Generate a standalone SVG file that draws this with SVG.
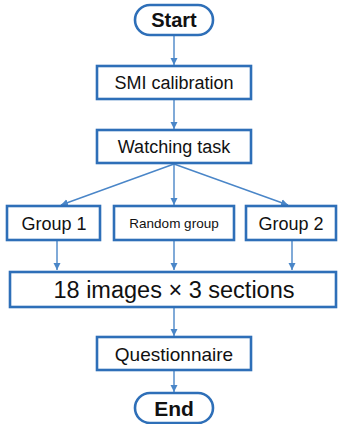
<svg xmlns="http://www.w3.org/2000/svg" width="338" height="424" viewBox="0 0 338 424">
<defs>
<marker id="ah" markerWidth="8" markerHeight="8" refX="7" refY="4" orient="auto" markerUnits="userSpaceOnUse">
<path d="M0,0.5 L7,4 L0,7.5 Z" fill="#4a86c8"/>
</marker>
</defs>
<style>
.box{fill:#fff;stroke:#2e6fb8;stroke-width:2.6}
.t{font-family:"Liberation Sans",Arial,sans-serif;fill:#111;text-anchor:middle}
.b{font-weight:bold}
.c{stroke:#4a86c8;stroke-width:1.4;fill:none;marker-end:url(#ah)}
</style>
<rect width="338" height="424" fill="#fff"/>
<g id="connectors">
<line class="c" x1="174" y1="36" x2="174" y2="65"/>
<line class="c" x1="174" y1="100" x2="174" y2="129"/>
<line class="c" x1="174" y1="164" x2="61" y2="205"/>
<line class="c" x1="174" y1="164" x2="174" y2="205"/>
<line class="c" x1="174" y1="164" x2="288" y2="205"/>
<line class="c" x1="57" y1="241" x2="57" y2="270"/>
<line class="c" x1="174" y1="241" x2="174" y2="270"/>
<line class="c" x1="292" y1="241" x2="292" y2="270"/>
<line class="c" x1="174" y1="308" x2="174" y2="336"/>
<line class="c" x1="174" y1="371" x2="174" y2="392"/>
</g>
<g id="start">
<rect class="box" x="135" y="5" width="78" height="30" rx="15"/>
<text class="t b" x="174" y="27" font-size="20">Start</text>
</g>
<g id="smi">
<rect class="box" x="97" y="66" width="154" height="33"/>
<text class="t" x="174" y="89" font-size="18">SMI calibration</text>
</g>
<g id="watching">
<rect class="box" x="97" y="130" width="154" height="33"/>
<text class="t" x="174" y="153" font-size="18">Watching task</text>
</g>
<g id="group1">
<rect class="box" x="7" y="206" width="93" height="34"/>
<text class="t" x="54" y="230" font-size="18">Group 1</text>
</g>
<g id="random">
<rect class="box" x="114" y="206" width="120" height="34"/>
<text class="t" x="174" y="228" font-size="13.5">Random group</text>
</g>
<g id="group2">
<rect class="box" x="246" y="206" width="90" height="34"/>
<text class="t" x="291" y="230" font-size="18">Group 2</text>
</g>
<g id="images">
<rect class="box" x="10" y="272" width="326" height="35"/>
<text class="t" x="174" y="298" font-size="23.5">18 images × 3 sections</text>
</g>
<g id="questionnaire">
<rect class="box" x="97" y="337" width="154" height="33"/>
<text class="t" x="174" y="361" font-size="19">Questionnaire</text>
</g>
<g id="end">
<rect class="box" x="135" y="393" width="78" height="30" rx="15"/>
<text class="t b" x="174" y="416" font-size="21">End</text>
</g>
</svg>
